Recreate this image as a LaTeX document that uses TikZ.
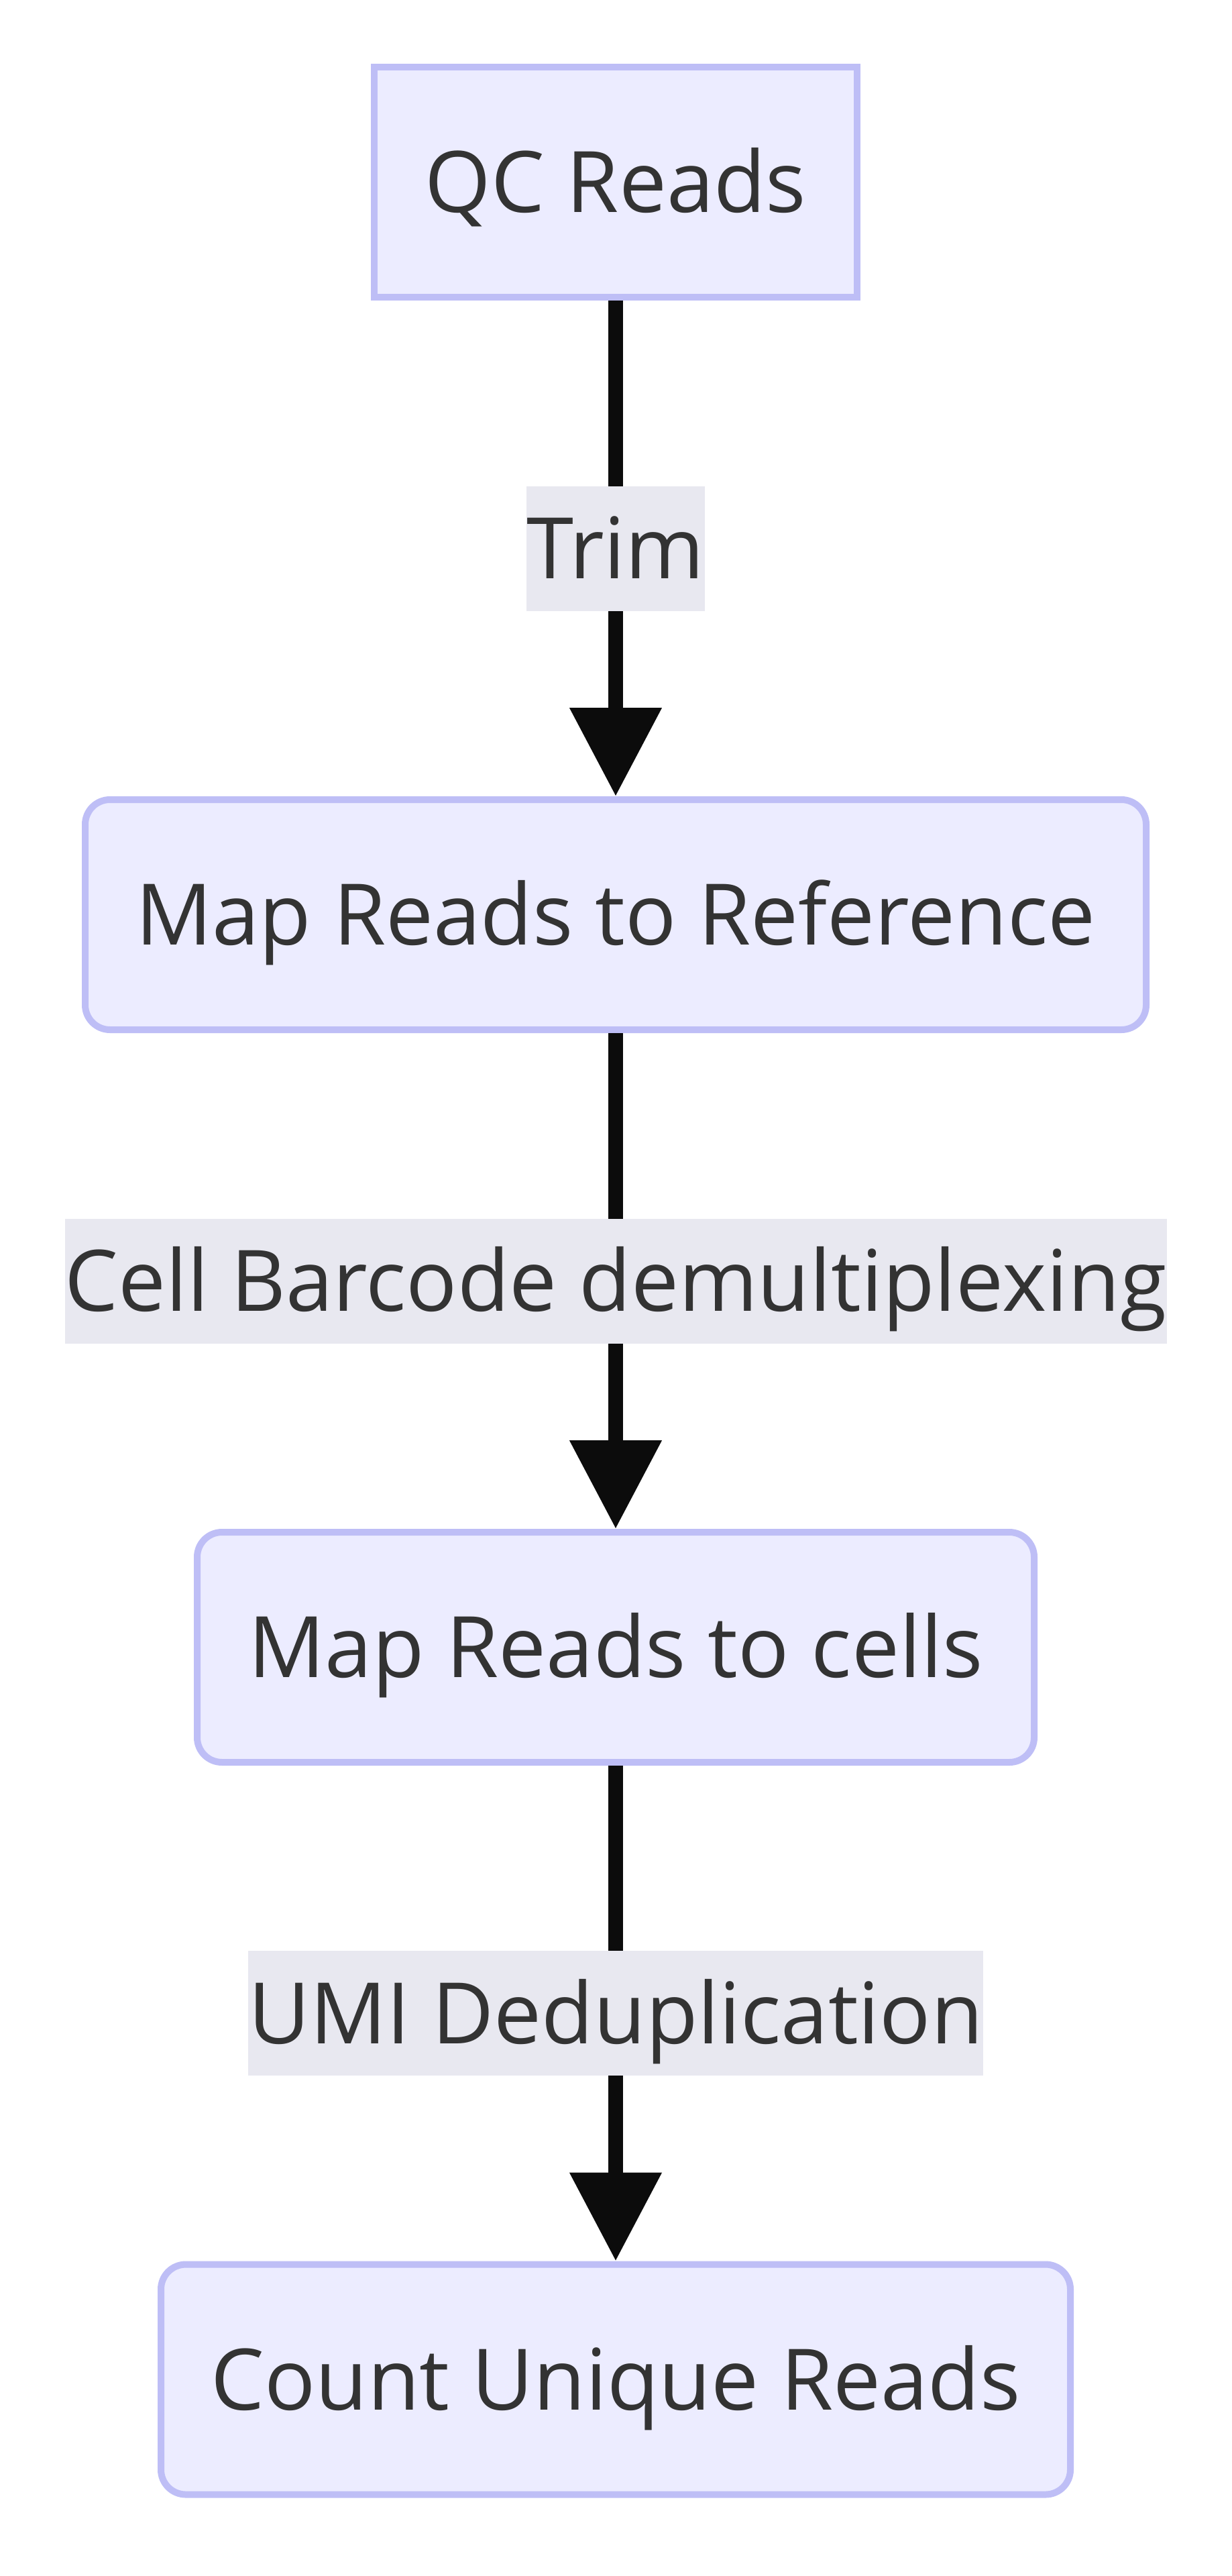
\documentclass[tikz,border=0pt]{standalone}
\usepackage{fontspec}
\setmainfont{Open Sans}
\usepackage{tikz}
\usetikzlibrary{arrows.meta}

\definecolor{boxfill}{HTML}{ECECFF}
\definecolor{boxline}{RGB}{190,190,246}
\definecolor{lblfill}{RGB}{232,232,240}
\definecolor{txt}{HTML}{333333}
\definecolor{arrowcol}{RGB}{12,12,12}

\begin{document}
\begin{tikzpicture}[
		x=1cm, y=1cm,
		font=\fontsize{36}{43}\selectfont,
		stepbox/.style={draw=boxline, fill=boxfill, line width=0.10cm,
			text=txt, minimum height=3.43cm, inner sep=0pt,
			text height=25.7pt, text depth=0pt},
		roundbox/.style={stepbox, rounded corners=0.37cm},
		lbl/.style={fill=lblfill, text=txt, inner xsep=0pt, inner ysep=0pt,
			minimum height=1.86cm, text height=25.7pt, text depth=0pt},
		flow/.style={draw=arrowcol, line width=0.22cm,
			-{Triangle[length=1.32cm, width=1.32cm]}}
	]
	% Frame
	\useasboundingbox (0, 0) rectangle (18.36, -38.40);
	% Boxes
	\node[stepbox, minimum width=7.20cm] (qc) at (9.18, -2.715) {QC Reads};
	\node[roundbox, minimum width=15.82cm] (mapref) at (9.18, -13.635)
		{Map Reads to Reference};
	\node[roundbox, minimum width=12.48cm] (mapcells) at (9.18, -24.555)
		{Map Reads to cells};
	\node[roundbox, minimum width=13.56cm] (count) at (9.18, -35.47)
		{Count Unique Reads};
	% Edges with labels
	\draw[flow] (qc) -- (mapref) node[lbl, midway] (trim) {Trim};
	\draw[flow] (mapref) -- (mapcells) node[lbl, midway] (demux)
		{Cell Barcode demultiplexing};
	\draw[flow] (mapcells) -- (count) node[lbl, midway] (dedup)
		{UMI Deduplication};
\end{tikzpicture}
\end{document}
